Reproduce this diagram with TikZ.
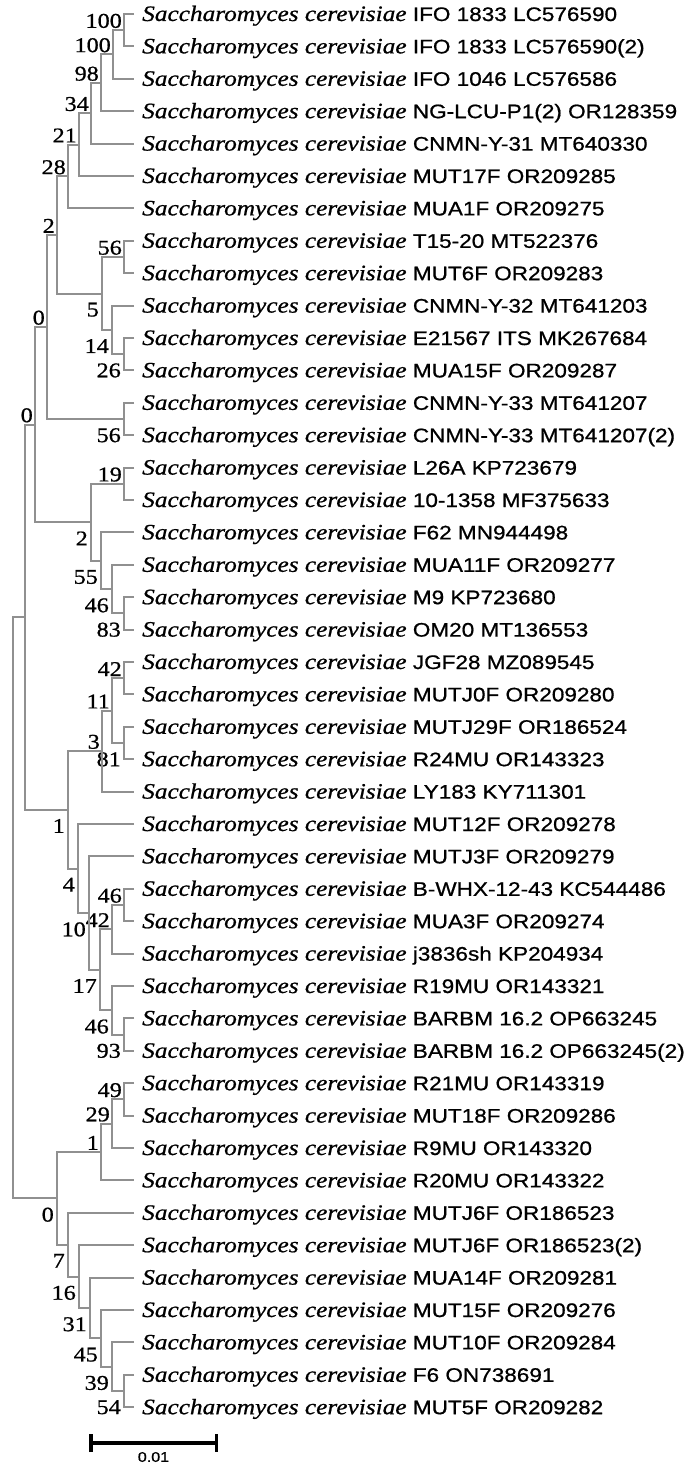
\documentclass[tikz,border=0pt]{standalone}
\usepackage{fontspec}
\usetikzlibrary{arrows.meta,positioning,calc}
\newfontfamily\spfont{Liberation Serif}[FakeStretch=1.15,FakeBold=0.8]
\newfontfamily\strainfont{Liberation Sans}[FakeStretch=1.15,FakeBold=0.8]
\definecolor{branch}{HTML}{909090}
\newcommand{\sce}[1]{{\itshape Saccharomyces cerevisiae} {\strainfont\fontsize{19.6bp}{24bp}\selectfont #1}}

\begin{document}
\begin{tikzpicture}[x=1bp, y=-1bp,
  edge/.style={draw=branch, line width=2bp},
  leaf/.style={anchor=west, inner sep=0pt, text height=14bp, text depth=0bp,
    font=\spfont\fontsize{22bp}{26bp}\selectfont},
  bootup/.style={anchor=south east, inner sep=0pt, xshift=-2bp, yshift=2bp,
    font=\spfont\fontsize{21bp}{25bp}\selectfont},
  bootdn/.style={anchor=north east, inner sep=0pt, xshift=-3bp, yshift=-9bp,
    font=\spfont\fontsize{21bp}{25bp}\selectfont}]
  \useasboundingbox (0,0) rectangle (687,1466);

  % Leaves: tip of each branch, then its name
  \coordinate (l1) at (134,14);      \node[leaf, right=8bp of l1] (t1) {\sce{IFO 1833 LC576590}};
  \coordinate (l2) at (134,46.4);    \node[leaf, right=8bp of l2] (t2) {\sce{IFO 1833 LC576590(2)}};
  \coordinate (l3) at (134,78.8);    \node[leaf, right=8bp of l3] (t3) {\sce{IFO 1046 LC576586}};
  \coordinate (l4) at (134,111.2);   \node[leaf, right=8bp of l4] (t4) {\sce{NG-LCU-P1(2) OR128359}};
  \coordinate (l5) at (134,143.6);   \node[leaf, right=8bp of l5] (t5) {\sce{CNMN-Y-31 MT640330}};
  \coordinate (l6) at (134,176);     \node[leaf, right=8bp of l6] (t6) {\sce{MUT17F OR209285}};
  \coordinate (l7) at (134,208.4);   \node[leaf, right=8bp of l7] (t7) {\sce{MUA1F OR209275}};
  \coordinate (l8) at (134,240.8);   \node[leaf, right=8bp of l8] (t8) {\sce{T15-20 MT522376}};
  \coordinate (l9) at (134,273.2);   \node[leaf, right=8bp of l9] (t9) {\sce{MUT6F OR209283}};
  \coordinate (l10) at (134,305.6);  \node[leaf, right=8bp of l10] (t10) {\sce{CNMN-Y-32 MT641203}};
  \coordinate (l11) at (134,338);    \node[leaf, right=8bp of l11] (t11) {\sce{E21567 ITS MK267684}};
  \coordinate (l12) at (134,370.4);  \node[leaf, right=8bp of l12] (t12) {\sce{MUA15F OR209287}};
  \coordinate (l13) at (134,402.8);  \node[leaf, right=8bp of l13] (t13) {\sce{CNMN-Y-33 MT641207}};
  \coordinate (l14) at (134,435.2);  \node[leaf, right=8bp of l14] (t14) {\sce{CNMN-Y-33 MT641207(2)}};
  \coordinate (l15) at (134,467.6);  \node[leaf, right=8bp of l15] (t15) {\sce{L26A KP723679}};
  \coordinate (l16) at (134,500);    \node[leaf, right=8bp of l16] (t16) {\sce{10-1358 MF375633}};
  \coordinate (l17) at (134,532.4);  \node[leaf, right=8bp of l17] (t17) {\sce{F62 MN944498}};
  \coordinate (l18) at (134,564.8);  \node[leaf, right=8bp of l18] (t18) {\sce{MUA11F OR209277}};
  \coordinate (l19) at (134,597.2);  \node[leaf, right=8bp of l19] (t19) {\sce{M9 KP723680}};
  \coordinate (l20) at (134,629.6);  \node[leaf, right=8bp of l20] (t20) {\sce{OM20 MT136553}};
  \coordinate (l21) at (134,662);    \node[leaf, right=8bp of l21] (t21) {\sce{JGF28 MZ089545}};
  \coordinate (l22) at (134,694.4);  \node[leaf, right=8bp of l22] (t22) {\sce{MUTJ0F OR209280}};
  \coordinate (l23) at (134,726.8);  \node[leaf, right=8bp of l23] (t23) {\sce{MUTJ29F OR186524}};
  \coordinate (l24) at (134,759.2);  \node[leaf, right=8bp of l24] (t24) {\sce{R24MU OR143323}};
  \coordinate (l25) at (134,791.6);  \node[leaf, right=8bp of l25] (t25) {\sce{LY183 KY711301}};
  \coordinate (l26) at (134,824);    \node[leaf, right=8bp of l26] (t26) {\sce{MUT12F OR209278}};
  \coordinate (l27) at (134,856.4);  \node[leaf, right=8bp of l27] (t27) {\sce{MUTJ3F OR209279}};
  \coordinate (l28) at (134,888.8);  \node[leaf, right=8bp of l28] (t28) {\sce{B-WHX-12-43 KC544486}};
  \coordinate (l29) at (134,921.2);  \node[leaf, right=8bp of l29] (t29) {\sce{MUA3F OR209274}};
  \coordinate (l30) at (134,953.6);  \node[leaf, right=8bp of l30] (t30) {\sce{j3836sh KP204934}};
  \coordinate (l31) at (134,986);    \node[leaf, right=8bp of l31] (t31) {\sce{R19MU OR143321}};
  \coordinate (l32) at (134,1018.4); \node[leaf, right=8bp of l32] (t32) {\sce{BARBM 16.2 OP663245}};
  \coordinate (l33) at (134,1050.8); \node[leaf, right=8bp of l33] (t33) {\sce{BARBM 16.2 OP663245(2)}};
  \coordinate (l34) at (134,1083.2); \node[leaf, right=8bp of l34] (t34) {\sce{R21MU OR143319}};
  \coordinate (l35) at (134,1115.6); \node[leaf, right=8bp of l35] (t35) {\sce{MUT18F OR209286}};
  \coordinate (l36) at (134,1148);   \node[leaf, right=8bp of l36] (t36) {\sce{R9MU OR143320}};
  \coordinate (l37) at (134,1180.4); \node[leaf, right=8bp of l37] (t37) {\sce{R20MU OR143322}};
  \coordinate (l38) at (134,1212.8); \node[leaf, right=8bp of l38] (t38) {\sce{MUTJ6F OR186523}};
  \coordinate (l39) at (134,1245.2); \node[leaf, right=8bp of l39] (t39) {\sce{MUTJ6F OR186523(2)}};
  \coordinate (l40) at (134,1277.6); \node[leaf, right=8bp of l40] (t40) {\sce{MUA14F OR209281}};
  \coordinate (l41) at (134,1310);   \node[leaf, right=8bp of l41] (t41) {\sce{MUT15F OR209276}};
  \coordinate (l42) at (134,1342.4); \node[leaf, right=8bp of l42] (t42) {\sce{MUT10F OR209284}};
  \coordinate (l43) at (134,1374.8); \node[leaf, right=8bp of l43] (t43) {\sce{F6 ON738691}};
  \coordinate (l44) at (134,1407.2); \node[leaf, right=8bp of l44] (t44) {\sce{MUT5F OR209282}};

  % Upper clade
  \coordinate (cA) at (124,30.2);    \node[bootup] (bA) at (cA) {100};
  \coordinate (cB) at (113,54.5);    \node[bootup] (bB) at (cB) {100};
  \coordinate (cC) at (101,83);      \node[bootup] (bC) at (cC) {98};
  \coordinate (cD) at (91,113.3);    \node[bootup] (bD) at (cD) {34};
  \coordinate (cE) at (79,144.6);    \node[bootup] (bE) at (cE) {21};
  \coordinate (cF) at (68,176.5);    \node[bootup] (bF) at (cF) {28};
  \coordinate (cK) at (124,257);     \node[bootup] (bK) at (cK) {56};
  \coordinate (cL) at (124,354.2);   \node[bootdn] (bL) at (cL) {26};
  \coordinate (cM) at (112,329.9);   \node[bootdn] (bM) at (cM) {14};
  \coordinate (cN) at (102,293.5);   \node[bootdn] (bN) at (cN) {5};
  \coordinate (cG) at (57,235);      \node[bootup] (bG) at (cG) {2};
  \coordinate (cO) at (124,419);     \node[bootdn] (bO) at (cO) {56};
  \coordinate (cH) at (47,327);      \node[bootup] (bH) at (cH) {0};
  \coordinate (cP) at (124,483.8);   \node[bootup] (bP) at (cP) {19};
  \coordinate (cQ) at (124,613.4);   \node[bootdn] (bQ) at (cQ) {83};
  \coordinate (cR) at (112,589.1);   \node[bootdn] (bR) at (cR) {46};
  \coordinate (cS) at (101,560.8);   \node[bootdn] (bS) at (cS) {55};
  \coordinate (cT) at (91,522.3);    \node[bootdn] (bT) at (cT) {2};
  \coordinate (cI) at (35,424.6);    \node[bootup] (bI) at (cI) {0};

  % Middle clade
  \coordinate (cU) at (124,678.2);   \node[bootup] (bU) at (cU) {42};
  \coordinate (cV) at (124,743);     \node[bootdn] (bV) at (cV) {81};
  \coordinate (cW) at (112,710.6);   \node[bootup] (bW) at (cW) {11};
  \coordinate (cX) at (102,751.1);   \node[bootup] (bX) at (cX) {3};
  \coordinate (cY) at (124,905);     \node[bootup] (bY) at (cY) {46};
  \coordinate (cZ) at (112,929.3);   \node[bootup] (bZ) at (cZ) {42};
  \coordinate (ca) at (124,1034.6);  \node[bootdn] (ba) at (ca) {93};
  \coordinate (cb) at (112,1010.3);  \node[bootdn] (bb) at (cb) {46};
  \coordinate (cc) at (100,969.8);   \node[bootdn] (bc) at (cc) {17};
  \coordinate (cd) at (89,913.1);    \node[bootdn] (bd) at (cd) {10};
  \coordinate (ce) at (78,868.6);    \node[bootdn] (be) at (ce) {4};
  \coordinate (cf) at (68,809.8);    \node[bootdn] (bf) at (cf) {1};
  \coordinate (cJ) at (25,617.2);

  % Lower clade
  \coordinate (cg) at (124,1099.4);  \node[bootup] (bg) at (cg) {49};
  \coordinate (ch) at (112,1123.7);  \node[bootup] (bh) at (ch) {29};
  \coordinate (ci) at (101,1152);    \node[bootup] (bi) at (ci) {1};
  \coordinate (cj) at (124,1391);    \node[bootdn] (bj) at (cj) {54};
  \coordinate (ck) at (112,1366.7);  \node[bootdn] (bk) at (ck) {39};
  \coordinate (cl) at (101,1338.4);  \node[bootdn] (bl) at (cl) {45};
  \coordinate (cm) at (90,1308);     \node[bootdn] (bm) at (cm) {31};
  \coordinate (cn) at (79,1276.6);   \node[bootdn] (bn) at (cn) {16};
  \coordinate (co) at (68,1244.7);   \node[bootdn] (bo) at (co) {7};
  \coordinate (cp) at (57,1198.4);   \node[bootdn] (bp) at (cp) {0};
  \coordinate (root) at (13,907.8);

  % Branches, one bracket per split
  \draw[edge] (l1) -| (cA) |- (l2);
  \draw[edge] (cA) -| (cB) |- (l3);
  \draw[edge] (cB) -| (cC) |- (l4);
  \draw[edge] (cC) -| (cD) |- (l5);
  \draw[edge] (cD) -| (cE) |- (l6);
  \draw[edge] (cE) -| (cF) |- (l7);
  \draw[edge] (l8) -| (cK) |- (l9);
  \draw[edge] (l11) -| (cL) |- (l12);
  \draw[edge] (l10) -| (cM) |- (cL);
  \draw[edge] (cK) -| (cN) |- (cM);
  \draw[edge] (cF) -| (cG) |- (cN);
  \draw[edge] (l13) -| (cO) |- (l14);
  \draw[edge] (cG) -| (cH) |- (cO);
  \draw[edge] (l15) -| (cP) |- (l16);
  \draw[edge] (l19) -| (cQ) |- (l20);
  \draw[edge] (l18) -| (cR) |- (cQ);
  \draw[edge] (l17) -| (cS) |- (cR);
  \draw[edge] (cP) -| (cT) |- (cS);
  \draw[edge] (cH) -| (cI) |- (cT);
  \draw[edge] (l21) -| (cU) |- (l22);
  \draw[edge] (l23) -| (cV) |- (l24);
  \draw[edge] (cU) -| (cW) |- (cV);
  \draw[edge] (cW) -| (cX) |- (l25);
  \draw[edge] (l28) -| (cY) |- (l29);
  \draw[edge] (cY) -| (cZ) |- (l30);
  \draw[edge] (l32) -| (ca) |- (l33);
  \draw[edge] (l31) -| (cb) |- (ca);
  \draw[edge] (cZ) -| (cc) |- (cb);
  \draw[edge] (l27) -| (cd) |- (cc);
  \draw[edge] (l26) -| (ce) |- (cd);
  \draw[edge] (cX) -| (cf) |- (ce);
  \draw[edge] (cI) -| (cJ) |- (cf);
  \draw[edge] (l34) -| (cg) |- (l35);
  \draw[edge] (cg) -| (ch) |- (l36);
  \draw[edge] (ch) -| (ci) |- (l37);
  \draw[edge] (l43) -| (cj) |- (l44);
  \draw[edge] (l42) -| (ck) |- (cj);
  \draw[edge] (l41) -| (cl) |- (ck);
  \draw[edge] (l40) -| (cm) |- (cl);
  \draw[edge] (l39) -| (cn) |- (cm);
  \draw[edge] (l38) -| (co) |- (cn);
  \draw[edge] (ci) -| (cp) |- (co);
  \draw[edge] (cJ) -| (root) |- (cp);

  % Scale bar
  \coordinate (sbl) at (89,1443);
  \coordinate (sbr) at (218,1443);
  \draw[line width=3.5bp, {Bar[width=18bp]}-{Bar[width=18bp]}] (sbl) -- (sbr);
  \node[font=\strainfont\fontsize{14bp}{16bp}\selectfont, inner sep=0pt] (sbt)
    at ([yshift=-14bp]$(sbl)!0.5!(sbr)$) {0.01};
\end{tikzpicture}
\end{document}
